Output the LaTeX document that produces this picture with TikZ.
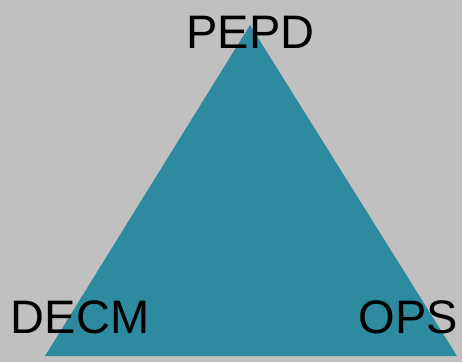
\documentclass[tikz,border=0pt]{standalone}
\usepackage{fontspec}
\setmainfont{Liberation Sans}
\definecolor{bggray}{RGB}{192,192,192}
\definecolor{triteal}{RGB}{46,138,158}
\begin{document}
\begin{tikzpicture}[x=1pt,y=-1pt]
\newcommand{\mylabelfont}[1]{
\fontsize{47}{50}\selectfont{#1}
}%Background
\fill [bggray] (0,0) rectangle (462,362);
\useasboundingbox (0,0) rectangle (462,362);
%Corners of the triangle
\coordinate (top) at (250,25);
\coordinate (left) at (45,356);
\coordinate (right) at (457,356);
%Draw the triangle
\fill [triteal] (top) -- (left) -- (right) -- cycle;
%Labels at the corners
\coordinate (wtop) at (250.5,48);
\coordinate (wleft) at (80,333);
\coordinate (wright) at (408.5,333);
\node (pepd) [anchor=base,inner sep=0pt] at (wtop) {\mylabelfont{PEPD}};
\node (decm) [anchor=base,inner sep=0pt] at (wleft) {\mylabelfont{DECM}};
\node (ops) [anchor=base,inner sep=0pt] at (wright) {\mylabelfont{OPS}};
\end{tikzpicture}
\end{document}
